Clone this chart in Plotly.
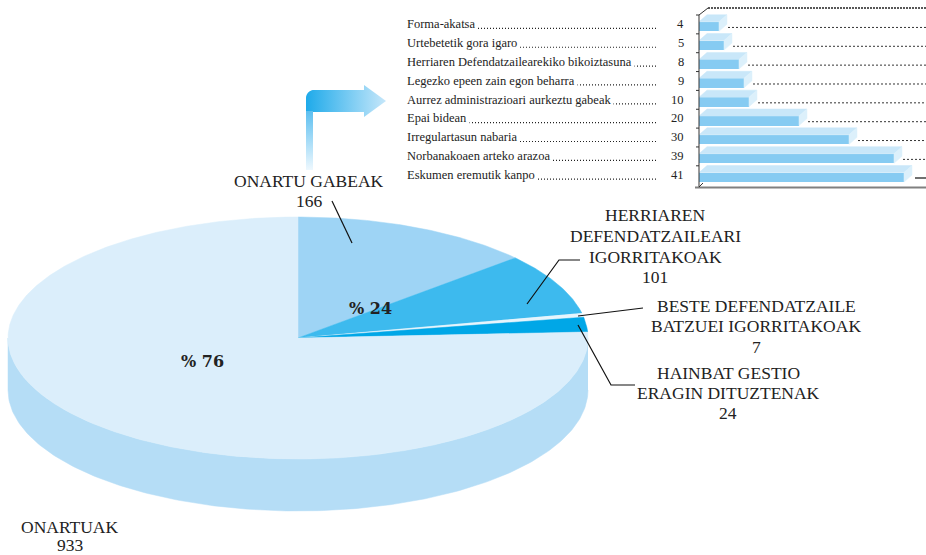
import numpy as np
import plotly.graph_objects as go

# ---------------- data ----------------
pie_names = ["ONARTU GABEAK", "HERRIAREN DEFENDATZAILEARI IGORRITAKOAK",
             "BESTE DEFENDATZAILE BATZUEI IGORRITAKOAK",
             "HAINBAT GESTIO ERAGIN DITUZTENAK", "ONARTUAK"]
pie_values = [166, 101, 7, 24, 933]
pie_colors = ["#9ed4f5", "#3dbaee", "#e6f5fd", "#00a7e7", "#dbeefb"]
pie_side_color = "#b5ddf6"
pct_texts = ["% 24", "% 76"]

bar_categories = ["Forma-akatsa", "Urtebetetik gora igaro",
                  "Herriaren Defendatzailearekiko bikoiztasuna",
                  "Legezko epeen zain egon beharra",
                  "Aurrez administrazioari aurkeztu gabeak", "Epai bidean",
                  "Irregulartasun nabaria", "Norbanakoaen arteko arazoa",
                  "Eskumen eremutik kanpo"]
bar_values = [4, 5, 8, 9, 10, 20, 30, 39, 41]

# ---------------- layout constants ----------------
W, H = 926, 555
CX, CY, RX, RY, DEPTH = 298, 338, 290, 121, 52
TXT = "#222222"
SERIF = "Liberation Serif"

fig = go.Figure()

# ---------------- 3D pie ----------------
total = sum(pie_values)
starts = np.concatenate([[0], np.cumsum(pie_values)[:-1]]) / total * 360
ends = np.cumsum(pie_values) / total * 360

def ex(t):
    return CX + RX * np.sin(np.radians(t))

def ey(t):
    return CY - RY * np.cos(np.radians(t))

# sides (front half only)
for a0, a1, name in zip(starts, ends, pie_names):
    s0, s1 = max(a0, 90), min(a1, 270)
    if s1 > s0:
        th = np.linspace(s0, s1, 200)
        xs = np.concatenate([ex(th), ex(th[::-1])])
        ys = np.concatenate([ey(th), ey(th[::-1]) + DEPTH])
        fig.add_trace(go.Scatter(x=xs, y=ys, fill="toself", mode="lines",
                                 fillcolor=pie_side_color,
                                 line=dict(color=pie_side_color, width=0.5),
                                 hoverinfo="skip", showlegend=False))
# tops
for a0, a1, col, name, v in zip(starts, ends, pie_colors, pie_names, pie_values):
    th = np.linspace(a0, a1, max(10, int((a1 - a0) * 2)))
    xs = np.concatenate([[CX], ex(th), [CX]])
    ys = np.concatenate([[CY], ey(th), [CY]])
    fig.add_trace(go.Scatter(x=xs, y=ys, fill="toself", mode="lines",
                             fillcolor=col, line=dict(color=col, width=0.5),
                             name=name, text=f"{name}: {v}", hoverinfo="text",
                             showlegend=False))

# arrow (decoration)
corner = np.linspace(180, 270, 12)
cxr, cyr, r = 314, 98, 8
arc_x = cxr + r * np.cos(np.radians(corner))
arc_y = cyr + r * np.sin(np.radians(corner))
arm_x = np.concatenate([[306], arc_x, [364, 364, 386, 364, 364, 313, 313]])
arm_y = np.concatenate([[112], arc_y, [90, 85, 101, 117, 112, 112, 112]])
fig.add_trace(go.Scatter(x=arm_x, y=arm_y, fill="toself", mode="none",
                         fillgradient=dict(type="horizontal", start=306, stop=386,
                                           colorscale=[[0, "#1eaaea"], [1, "#c6e7fa"]]),
                         hoverinfo="skip", showlegend=False))
fig.add_trace(go.Scatter(x=[306, 313, 313, 306], y=[111, 111, 170, 170], fill="toself",
                         mode="none",
                         fillgradient=dict(type="vertical", start=111, stop=170,
                                           colorscale=[[0, "#5cbff0"], [1, "#eef8fe"]]),
                         hoverinfo="skip", showlegend=False))

# leader lines
leaders = [
    [(332, 201), (352, 243)],
    [(527, 304), (559, 260), (580, 260)],
    [(578, 316), (643, 308)],
    [(578, 325), (611, 385), (635, 385)],
]
for pts in leaders:
    fig.add_trace(go.Scatter(x=[p[0] for p in pts], y=[p[1] for p in pts],
                             mode="lines", line=dict(color="#111111", width=1.2),
                             hoverinfo="skip", showlegend=False))

annotations = []

def txt(x, y, s, size=17.5, family=SERIF, anchor="center", xref="x", yref="y", **kw):
    annotations.append(dict(x=x, y=y, xref=xref, yref=yref, text=s, showarrow=False,
                            xanchor=anchor, yanchor="middle",
                            font=dict(family=family, size=size, color=TXT), **kw))

# pie labels
label_blocks = [
    (309, [181, 201], ["ONARTU GABEAK", str(pie_values[0])]),
    (655, [215, 236, 257, 277], ["HERRIAREN", "DEFENDATZAILEARI", "IGORRITAKOAK", str(pie_values[1])]),
    (756, [306, 326, 347], ["BESTE DEFENDATZAILE", "BATZUEI IGORRITAKOAK", str(pie_values[2])]),
    (728, [373, 393, 413], ["HAINBAT GESTIO", "ERAGIN DITUZTENAK", str(pie_values[3])]),
    (70, [527, 545], ["ONARTUAK", str(pie_values[4])]),
]
for x, ys, lines in label_blocks:
    for y, s in zip(ys, lines):
        txt(x, y, s)

txt(370, 308, f"<b>{pct_texts[0]}</b>", size=16, family="DejaVu Serif")
txt(202, 361, f"<b>{pct_texts[1]}</b>", size=16, family="DejaVu Serif")

# ---------------- bar chart ----------------
PITCH = 18.85
def u_of(px):
    return (px - 26.5) / PITCH
UNIT = 5.0
X0PX = 690
def xu(px):
    return (px - 699) / UNIT

idx = list(range(len(bar_values)))
BW = 9.5 / PITCH
DX = 8 / UNIT
DY = 7 / PITCH

fig.add_trace(go.Bar(x=bar_values, y=idx, orientation="h", width=BW,
                     marker=dict(color="#86cbf2", line=dict(width=0)),
                     xaxis="x2", yaxis="y2",
                     hovertext=bar_categories, showlegend=False))
for i, v in zip(idx, bar_values):
    top = i - BW / 2
    bot = i + BW / 2
    # top face
    fig.add_trace(go.Scatter(x=[0, v, v + DX, DX, 0], y=[top, top, top - DY, top - DY, top],
                             fill="toself", mode="lines", fillcolor="#c9e7f9",
                             line=dict(color="#c9e7f9", width=0.5),
                             xaxis="x2", yaxis="y2", hoverinfo="skip", showlegend=False))
    # side face
    fig.add_trace(go.Scatter(x=[v, v + DX, v + DX, v, v], y=[top, top - DY, bot - DY, bot, top],
                             fill="toself", mode="lines", fillcolor="#dcf0fb",
                             line=dict(color="#dcf0fb", width=0.5),
                             xaxis="x2", yaxis="y2", hoverinfo="skip", showlegend=False))

shapes = []
XMAX = xu(W)
for i, v in zip(idx, bar_values):
    last = i == len(bar_values) - 1
    shapes.append(dict(type="line", xref="x2", yref="y2",
                       x0=v + DX + (0.6 if last else 0.2), x1=XMAX,
                       y0=(u_of(178) if last else i + 0.05),
                       y1=(u_of(178) if last else i + 0.05),
                       line=dict(color="#333333", width=1.4 if last else 1,
                                 dash="solid" if last else "2px,2px")))
    # ticks on the left axis
    shapes.append(dict(type="line", xref="x2", yref="y2", x0=xu(696), x1=0,
                       y0=i - 0.61, y1=i - 0.61, line=dict(color="#333333", width=1)))
# axis frame
shapes += [
    dict(type="line", xref="x2", yref="y2", x0=0, x1=0, y0=u_of(15), y1=u_of(187),
         line=dict(color="#333333", width=1)),
    dict(type="line", xref="x2", yref="y2", x0=0, x1=xu(708), y0=u_of(15), y1=u_of(8),
         line=dict(color="#333333", width=1)),
    dict(type="line", xref="x2", yref="y2", x0=xu(708), x1=XMAX, y0=u_of(8), y1=u_of(8),
         line=dict(color="#222222", width=1.3, dash="2px,1px")),
    dict(type="line", xref="x2", yref="y2", x0=xu(695), x1=XMAX, y0=u_of(187.5), y1=u_of(187.5),
         line=dict(color="#808080", width=2)),
    dict(type="line", xref="x2", yref="y2", x0=0, x1=xu(703), y0=u_of(187), y1=u_of(183),
         line=dict(color="#333333", width=1)),
]

# bar labels with dot leaders
for i, (cat, v) in enumerate(zip(bar_categories, bar_values)):
    shapes.append(dict(type="line", xref="paper", yref="y2", x0=406 / W, x1=658 / W,
                       y0=i + 0.1, y1=i + 0.1,
                       line=dict(color="#222222", width=1.2, dash="1px,2px")))
    txt(404 / W, i - 0.12, cat, size=12.5, anchor="left", xref="paper", yref="y2",
        bgcolor="white", borderpad=2)
    txt(686 / W, i - 0.12, str(v), size=12.5, anchor="right", xref="paper", yref="y2")

fig.update_layout(
    width=W, height=H, margin=dict(l=0, r=0, t=0, b=0),
    paper_bgcolor="white", plot_bgcolor="rgba(0,0,0,0)",
    showlegend=False, shapes=shapes, annotations=annotations,
    xaxis=dict(range=[0, W], domain=[0, 1], visible=False, fixedrange=True),
    yaxis=dict(range=[H, 0], domain=[0, 1], visible=False, fixedrange=True),
    xaxis2=dict(range=[xu(X0PX), XMAX], domain=[X0PX / W, 1], anchor="y2", visible=False),
    yaxis2=dict(range=[u_of(190), u_of(4)], domain=[1 - 190 / H, 1 - 4 / H], anchor="x2",
                visible=False),
    bargap=0,
)

fig.write_html("out.html", config={"displayModeBar": False},
               post_script="document.body.style.margin='0';document.body.style.overflow='hidden';")
